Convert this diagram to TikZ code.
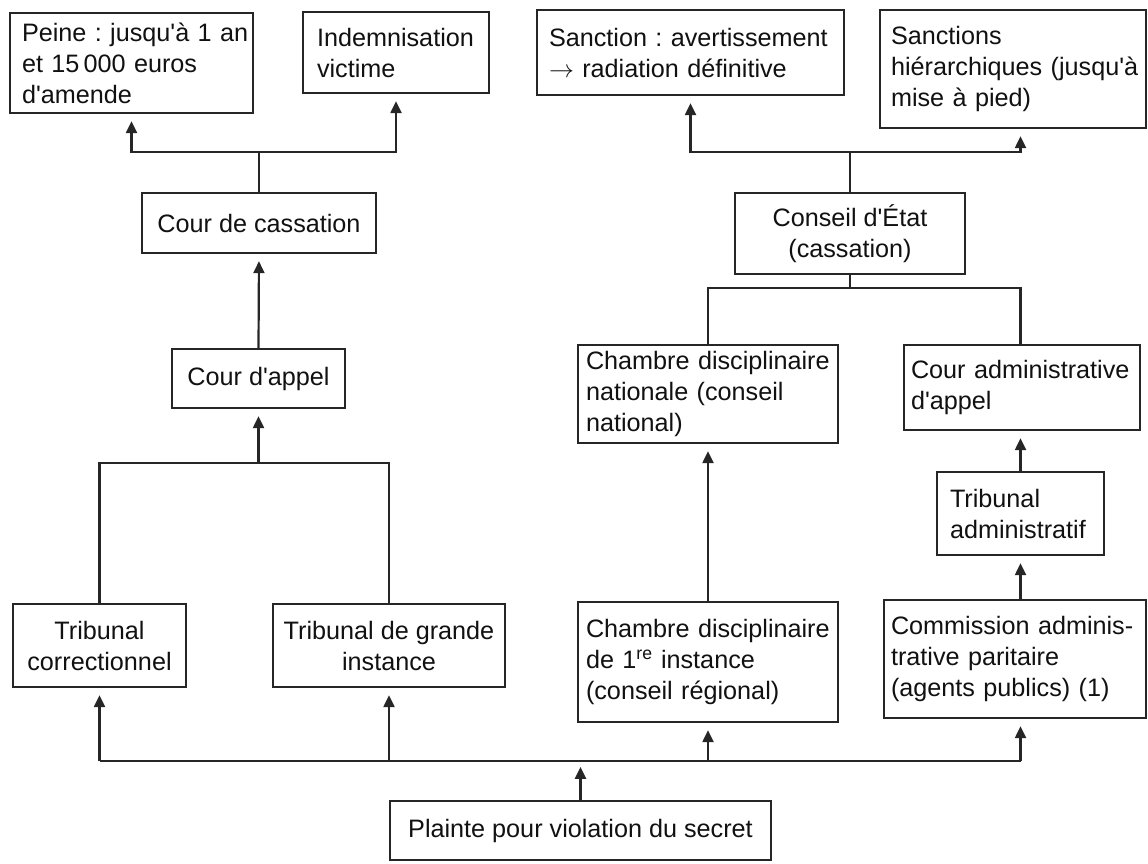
\documentclass[tikz,border=0pt]{standalone}
\usepackage{fontspec}
\setmainfont{Liberation Sans}[Ligatures=TeXOff]
\usetikzlibrary{arrows.meta}
\definecolor{ink}{HTML}{262626}
\definecolor{txt}{HTML}{111111}
\frenchspacing
\begin{document}
\begin{tikzpicture}[x=1pt,y=-1pt,
  box/.style={draw=ink, line width=2.3pt, inner sep=0pt, text=txt, fill=white,
    font=\fontsize{25.2}{31}\selectfont},
  cbox/.style={box, align=center},
  lbox/.style={box, align=left},
  link/.style={draw=ink, line width=2.2pt},
  arr/.style={link, -{Triangle[length=12pt,width=11pt]}, shorten >=7pt}]
\useasboundingbox (0,0) rectangle (1148,863);

% left-aligned boxes
\node[lbox, text width=219pt, inner xsep=12pt, minimum height=100pt] (peine) at (131.5,63)
  {\mbox{Peine : jusqu'à 1 an}\\\mbox{et 15\,000 euros}\\\mbox{d'amende}};
\node[lbox, text width=158pt, inner xsep=14pt, minimum height=81pt] (indem) at (396,52.5)
  {\mbox{Indemnisation}\\\mbox{victime}};
\node[lbox, text width=283pt, inner xsep=12pt, minimum height=85pt] (sanc) at (690.5,52.5)
  {\mbox{Sanction : avertissement}\\\mbox{$\rightarrow$ radiation définitive}};
\node[lbox, text width=244pt, inner xsep=11pt, minimum height=118pt] (sanch) at (1013,69)
  {\mbox{Sanctions}\\\mbox{hiérarchiques (jusqu'à}\\\mbox{mise à pied)}};
\node[lbox, text width=244pt, inner xsep=8pt, minimum height=98pt] (chnat) at (708,394)
  {\mbox{Chambre disciplinaire}\\\mbox{nationale (conseil}\\\mbox{national)}};
\node[lbox, text width=222pt, inner xsep=7pt, minimum height=85pt] (caa) at (1022,387.5)
  {\mbox{Cour administrative}\\\mbox{d'appel}};
\node[lbox, text width=141pt, inner xsep=13pt, minimum height=83pt] (ta) at (1020.5,513.5)
  {\mbox{Tribunal}\\\mbox{administratif}};
\node[lbox, text width=244pt, inner xsep=8pt, minimum height=120pt] (ch1) at (708,662)
  {\mbox{Chambre disciplinaire}\\\mbox{de 1\textsuperscript{re} instance}\\\mbox{(conseil régional)}};
\node[lbox, text width=248pt, inner xsep=7pt, minimum height=118pt] (cap) at (1015,659)
  {\mbox{Commission adminis-}\\\mbox{trative paritaire}\\\mbox{(agents publics) (1)}};

% centred boxes
\node[cbox, minimum width=234pt, minimum height=60pt] (cass) at (259,223) {Cour de cassation};
\node[cbox, minimum width=173pt, minimum height=59pt] (appel) at (258.5,378.5) {Cour d'appel};
\node[cbox, minimum width=173pt, minimum height=83pt] (trc) at (99.5,645.5) {Tribunal\\correctionnel};
\node[cbox, minimum width=232pt, minimum height=83pt] (tgi) at (389,645.5) {Tribunal de grande\\instance};
\node[cbox, minimum width=381pt, minimum height=59pt] (plainte) at (580.5,830.5) {Plainte pour violation du secret};
\node[cbox, minimum width=230pt, minimum height=81pt] (conseil) at (850,233.5) {Conseil d'État\\(cassation)};

% judicial branch
\path (cass.north) ++(0,-40) coordinate (jA);
\draw[link] (cass.north) -- (jA);
\draw[arr] (jA) -| (peine.south);
\draw[arr] (jA) -| (indem.south);
\draw[arr] (appel.north) -- (cass.south);
\path (appel.south) ++(0,54) coordinate (jB);
\draw[arr] (jB) -- (appel.south);
\draw[link] (trc.north) |- (tgi.north |- jB) -- (tgi.north);

% complaint distribution
\path (plainte.north) ++(0,-39) coordinate (jC);
\draw[link] (trc.south |- jC) -- (jC -| ta.south);
\draw[arr, shorten >=6pt] (plainte.north) -- (jC);
\draw[arr] (trc.south |- jC) -- (trc.south);
\draw[arr] (tgi.south |- jC) -- (tgi.south);
\draw[arr] (ch1.south |- jC) -- (ch1.south);
\draw[arr] (jC -| ta.south) -- (cap.south -| ta.south);

% administrative / disciplinary branch
\draw[arr] (ch1.north) -- (chnat.south);
\draw[arr] (cap.north -| ta.south) -- (ta.south);
\draw[arr] (ta.north) -- (ta.north |- caa.south);
\path (conseil.south) ++(0,13) coordinate (jE);
\draw[link] (conseil.south) -- (jE);
\draw[link] (chnat.north) |- (jE -| ta.north) -- (ta.north |- caa.north);
\path (conseil.north) ++(0,-40) coordinate (jD);
\draw[link] (conseil.north) -- (jD);
\draw[arr] (jD) -| (sanc.south);
\draw[arr] (jD) -| (sanch.south -| ta.north);
\end{tikzpicture}
\end{document}
